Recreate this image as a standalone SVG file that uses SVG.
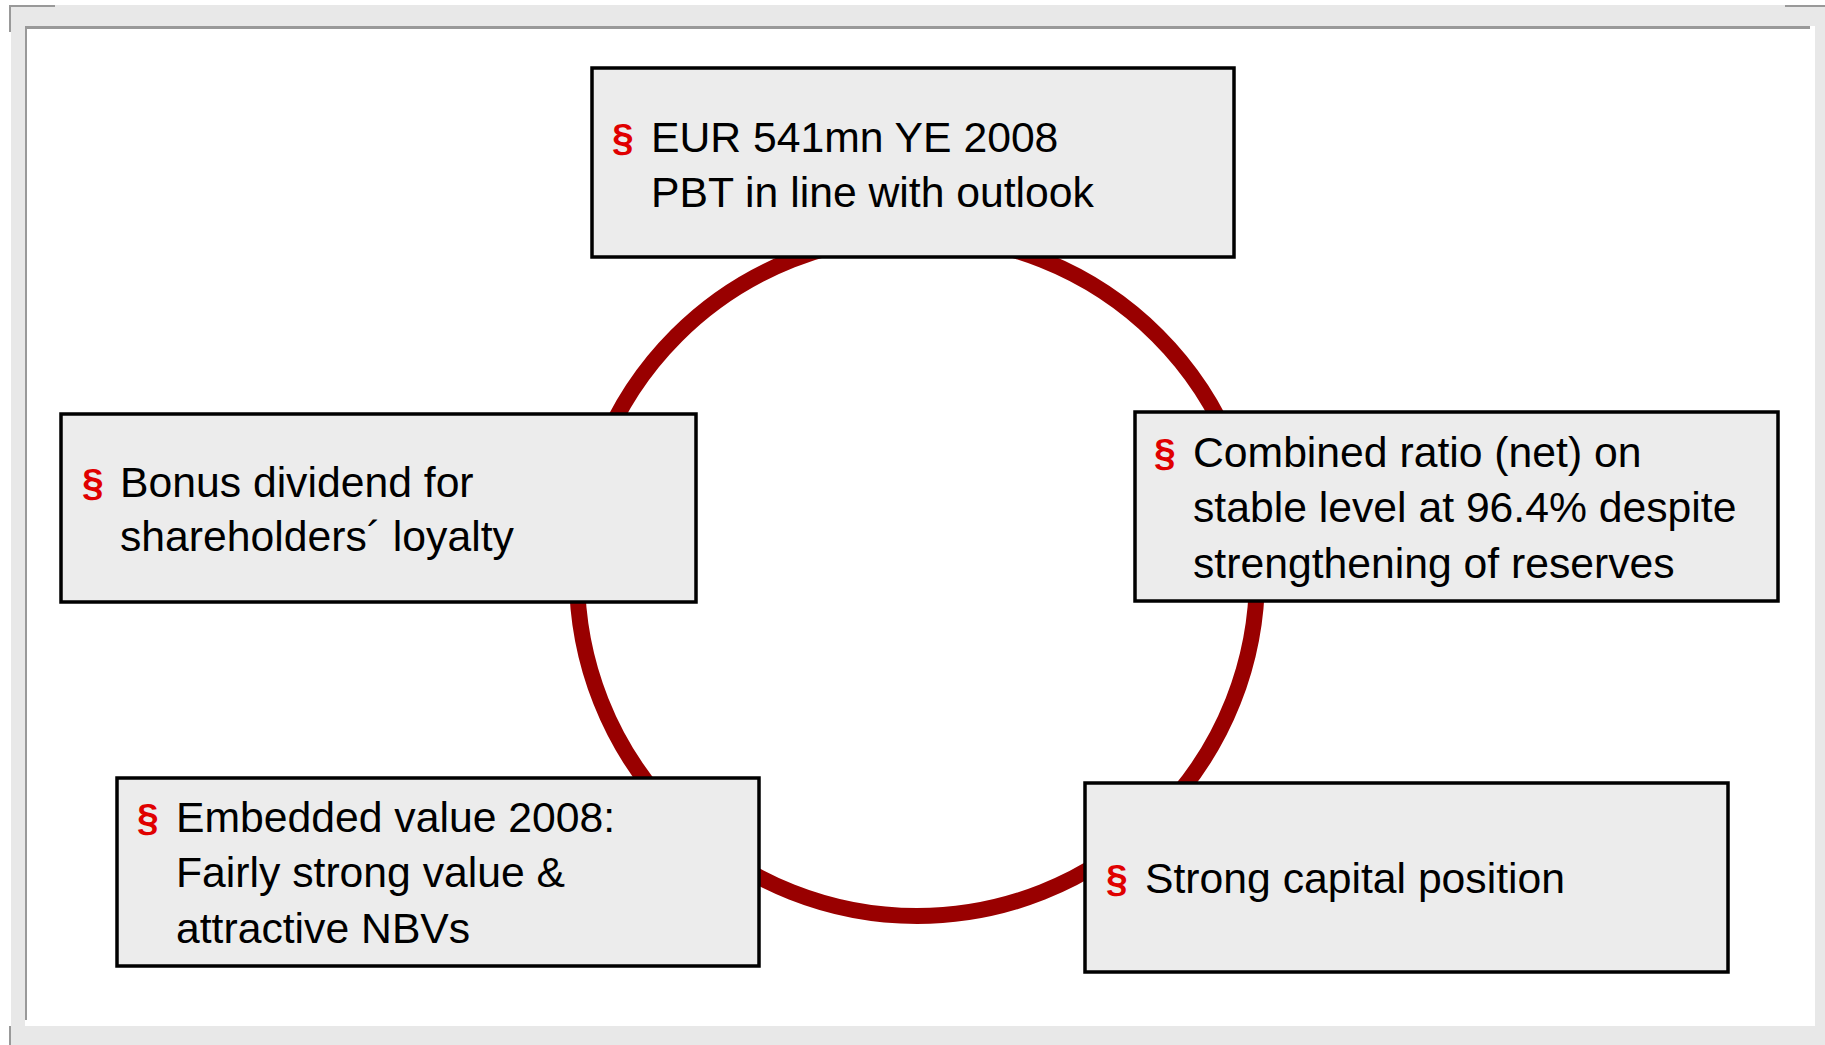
<svg xmlns="http://www.w3.org/2000/svg" width="1825" height="1045" viewBox="0 0 1825 1045">
  <style>
    .box { fill: #ececec; stroke: #000000; stroke-width: 3.5; }
    .txt { font-family: "Liberation Sans", Arial, sans-serif; font-size: 42.7px; fill: #000000; }
    .bul { font-family: "Liberation Sans", Arial, sans-serif; font-size: 39px; font-weight: bold; fill: #e00000; }
    .ring { fill: none; stroke: #990000; stroke-width: 16; }
  </style>
  <g id="frame">
    <rect x="0" y="0" width="1825" height="1045" fill="#ffffff"/>
    <rect x="11" y="5" width="1814" height="1040" fill="#e8e8e8"/>
    <rect x="25" y="26" width="1790" height="1000" fill="#ffffff"/>
    <rect x="25" y="26" width="1785" height="3" fill="#999999"/>
    <rect x="25" y="26" width="2" height="994" fill="#999999"/>
    <rect x="9" y="5" width="46" height="2" fill="#999999"/>
    <rect x="9" y="5" width="2" height="27" fill="#999999"/>
    <rect x="1785" y="5" width="40" height="2" fill="#999999"/>
    <rect x="9" y="1026" width="2" height="19" fill="#999999"/>
  </g>
  <g id="connectors">
    <circle class="ring" cx="917" cy="576" r="340"/>
  </g>
  <g id="node-top">
    <rect class="box" x="592" y="68" width="642" height="189"/>
    <text class="bul" x="612" y="151">§</text>
    <text class="txt" x="651" y="152">EUR 541mn YE 2008</text>
    <text class="txt" x="651" y="207">PBT in line with outlook</text>
  </g>
  <g id="node-left">
    <rect class="box" x="61" y="414" width="635" height="188"/>
    <text class="bul" x="82" y="496">§</text>
    <text class="txt" x="120" y="497">Bonus dividend for</text>
    <text class="txt" x="120" y="551">shareholders´ loyalty</text>
  </g>
  <g id="node-right">
    <rect class="box" x="1135" y="412" width="643" height="189"/>
    <text class="bul" x="1154" y="466">§</text>
    <text class="txt" x="1193" y="467">Combined ratio (net) on</text>
    <text class="txt" x="1193" y="522">stable level at 96.4% despite</text>
    <text class="txt" x="1193" y="578">strengthening of reserves</text>
  </g>
  <g id="node-bottom-left">
    <rect class="box" x="117" y="778" width="642" height="188"/>
    <text class="bul" x="137" y="831">§</text>
    <text class="txt" x="176" y="832">Embedded value 2008:</text>
    <text class="txt" x="176" y="887">Fairly strong value &amp;</text>
    <text class="txt" x="176" y="943">attractive NBVs</text>
  </g>
  <g id="node-bottom-right">
    <rect class="box" x="1085" y="783" width="643" height="189"/>
    <text class="bul" x="1106" y="892">§</text>
    <text class="txt" x="1145" y="893">Strong capital position</text>
  </g>
</svg>
